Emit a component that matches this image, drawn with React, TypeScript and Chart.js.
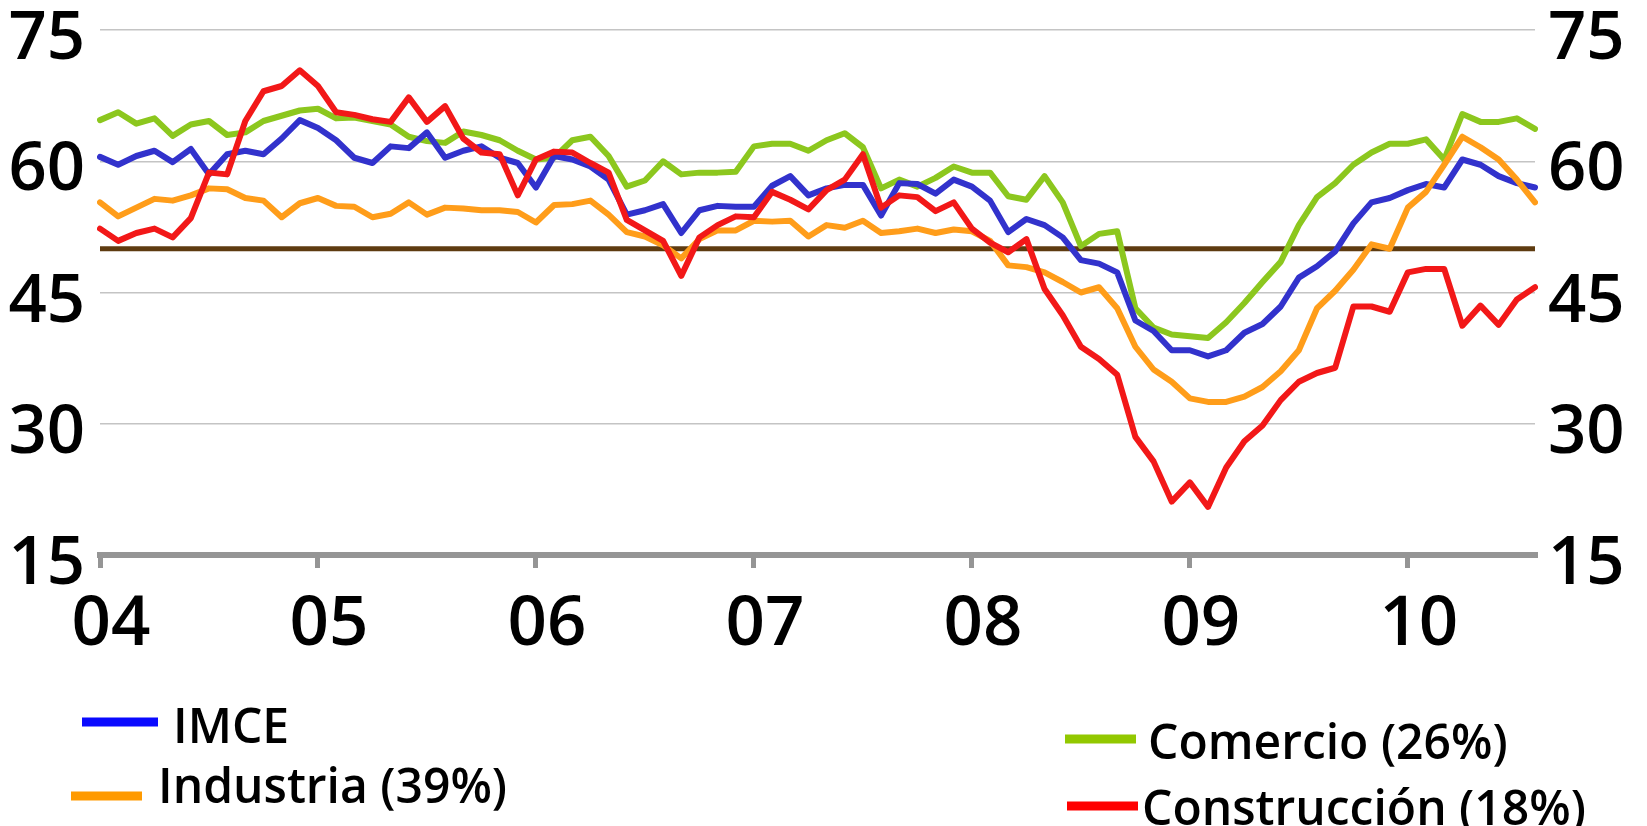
import React, { useEffect, useRef } from 'react';
import { Chart, registerables } from 'chart.js';

Chart.register(...registerables);

// Monthly series, January 2004 to August 2010
const MONTH_NAMES = ['ene', 'feb', 'mar', 'abr', 'may', 'jun', 'jul', 'ago', 'sep', 'oct', 'nov', 'dic'];
const FIRST_YEAR = 4;
const MONTH_COUNT = 80;
const months: string[] = Array.from(
  { length: MONTH_COUNT },
  (_, i) => `${MONTH_NAMES[i % 12]}-${String(FIRST_YEAR + Math.floor(i / 12)).padStart(2, '0')}`
);

// Year labels shown under each January
const yearTicks = ['04', '05', '06', '07', '08', '09', '10'];

// Value axis
const Y_MIN = 15;
const Y_MAX = 75;
const Y_STEP = 15;
const NEUTRAL = 50;

const imce = [
  60.5, 59.6, 60.6, 61.2, 59.9, 61.4, 58.5, 60.8, 61.2, 60.8, 62.6, 64.7,
  63.8, 62.4, 60.4, 59.8, 61.7, 61.5, 63.3, 60.4, 61.2, 61.7, 60.4, 59.8,
  57.0, 60.6, 60.2, 59.4, 57.9, 53.9, 54.4, 55.1, 51.8, 54.4, 54.9, 54.8,
  54.8, 57.2, 58.3, 56.1, 56.9, 57.3, 57.3, 53.8, 57.5, 57.4, 56.3, 57.9,
  57.1, 55.5, 51.9, 53.4, 52.7, 51.3, 48.7, 48.3, 47.3, 41.8, 40.6, 38.4,
  38.4, 37.7, 38.4, 40.4, 41.4, 43.4, 46.7, 48.0, 49.7, 52.9, 55.3, 55.8,
  56.7, 57.4, 57.0, 60.2, 59.6, 58.3, 57.5, 57.0,
];

const industria = [
  55.3, 53.7, 54.7, 55.7, 55.5, 56.1, 56.9, 56.8, 55.8, 55.5, 53.6, 55.2,
  55.8, 54.9, 54.8, 53.6, 54.0, 55.3, 53.9, 54.7, 54.6, 54.4, 54.4, 54.2,
  53.0, 55.0, 55.1, 55.5, 53.9, 51.9, 51.4, 50.4, 48.9, 51.1, 52.1, 52.1,
  53.2, 53.1, 53.2, 51.4, 52.7, 52.4, 53.2, 51.8, 52.0, 52.3, 51.8, 52.2,
  52.0, 50.9, 48.1, 47.9, 47.3, 46.2, 45.0, 45.6, 43.2, 38.8, 36.2, 34.8,
  32.9, 32.5, 32.5, 33.1, 34.2, 36.0, 38.4, 43.2, 45.2, 47.6, 50.5, 50.0,
  54.7, 56.5, 59.6, 62.8, 61.6, 60.2, 57.9, 55.3,
];

const comercio = [
  64.7, 65.6, 64.3, 64.9, 62.9, 64.2, 64.6, 63.0, 63.3, 64.6, 65.2, 65.8,
  66.0, 64.9, 65.0, 64.6, 64.2, 62.8, 62.3, 62.1, 63.4, 63.0, 62.4, 61.2,
  60.2, 60.4, 62.4, 62.8, 60.6, 57.1, 57.8, 60.0, 58.5, 58.7, 58.7, 58.8,
  61.7, 62.0, 62.0, 61.2, 62.4, 63.2, 61.6, 56.9, 57.9, 57.1, 58.1, 59.4,
  58.7, 58.7, 56.0, 55.6, 58.3, 55.3, 50.3, 51.7, 52.0, 43.2, 41.0, 40.2,
  40.0, 39.8, 41.6, 43.8, 46.2, 48.5, 52.7, 55.9, 57.5, 59.6, 61.0, 62.0,
  62.0, 62.5, 60.2, 65.4, 64.5, 64.5, 64.9, 63.7,
];

const construccion = [
  52.3, 50.9, 51.8, 52.3, 51.3, 53.5, 58.7, 58.5, 64.6, 68.0, 68.6, 70.4,
  68.6, 65.6, 65.3, 64.8, 64.5, 67.3, 64.5, 66.3, 62.6, 61.0, 60.8, 56.1,
  60.2, 61.1, 61.0, 59.8, 58.7, 53.3, 52.1, 50.9, 46.9, 51.3, 52.7, 53.7,
  53.6, 56.5, 55.6, 54.5, 56.7, 57.9, 60.8, 54.7, 56.1, 55.9, 54.3, 55.3,
  52.3, 50.7, 49.6, 51.1, 45.4, 42.4, 38.8, 37.4, 35.6, 28.5, 25.7, 21.1,
  23.3, 20.5, 25.0, 28.0, 29.8, 32.7, 34.8, 35.8, 36.4, 43.4, 43.4, 42.8,
  47.3, 47.7, 47.7, 41.2, 43.5, 41.3, 44.2, 45.6,
];

const WIDTH = 1647;
const HEIGHT = 826;
const PLOT_TOP = 30;
const PLOT_BOTTOM = 555;
const PLOT_LEFT = 100;
const PLOT_RIGHT = 1535;
const BOTTOM_PAD = 150;
const TICK_FONT = '"Open Sans", "Noto Sans", sans-serif';

// Horizontal reference line at the neutral level
const neutralLine = {
  id: 'neutralLine',
  beforeDatasetsDraw(chart: any) {
    const { ctx, chartArea, scales } = chart;
    const y = scales.y.getPixelForValue(NEUTRAL);
    ctx.save();
    ctx.strokeStyle = '#5e3b10';
    ctx.lineWidth = 5;
    ctx.beginPath();
    ctx.moveTo(chartArea.left, y);
    ctx.lineTo(chartArea.right, y);
    ctx.stroke();
    ctx.restore();
  },
};

// Two-column legend under the plot
const LEGEND_SLOTS = [
  { x0: 82, x1: 158, ly: 722, tx: 173, by: 743 },
  { x0: 71, x1: 142, ly: 796, tx: 158, by: 803 },
  { x0: 1065, x1: 1136, ly: 739, tx: 1148, by: 759 },
  { x0: 1067, x1: 1138, ly: 806, tx: 1142, by: 825 },
];

const legendPlugin = {
  id: 'cornerLegend',
  afterDraw(chart: any) {
    const { ctx } = chart;
    ctx.save();
    ctx.font = `600 48px ${TICK_FONT}`;
    ctx.fillStyle = '#000';
    ctx.textBaseline = 'alphabetic';
    ctx.textAlign = 'left';
    chart.data.datasets.forEach((ds: any, i: number) => {
      const slot = LEGEND_SLOTS[i];
      if (!slot) return;
      ctx.strokeStyle = ds.legendColor || ds.borderColor;
      ctx.lineWidth = 9;
      ctx.lineCap = 'butt';
      ctx.beginPath();
      ctx.moveTo(slot.x0, slot.ly);
      ctx.lineTo(slot.x1, slot.ly);
      ctx.stroke();
      ctx.fillText(ds.label, slot.tx, slot.by);
    });
    ctx.restore();
  },
};

// Pin the plot area so the axes do not reserve extra room for their labels
const fixVertical = (width: number) => (scale: any) => {
  scale.width = width;
  scale.paddingTop = 0;
  scale.paddingBottom = 0;
};

export default function App() {
  const canvasRef = useRef<HTMLCanvasElement | null>(null);

  useEffect(() => {
    if (!canvasRef.current) return;
    const lineStyle = {
      borderWidth: 6,
      pointRadius: 0,
      tension: 0,
      fill: false,
      borderJoinStyle: 'round' as const,
      borderCapStyle: 'round' as const,
    };
    const tickFont = { family: TICK_FONT, size: 67, weight: '600' as const };
    const chart = new Chart(canvasRef.current, {
      type: 'line',
      data: {
        labels: months,
        datasets: [
          { label: 'IMCE', data: imce, borderColor: '#3232cc', legendColor: '#0a0aff', order: 2, ...lineStyle } as any,
          { label: 'Industria (39%)', data: industria, borderColor: '#ff9d1a', legendColor: '#ff9a00', order: 1, ...lineStyle } as any,
          { label: 'Comercio (26%)', data: comercio, borderColor: '#8cc71e', legendColor: '#92c800', order: 3, ...lineStyle } as any,
          { label: 'Construcción (18%)', data: construccion, borderColor: '#f21818', legendColor: '#ff0000', order: 0, ...lineStyle } as any,
        ],
      },
      options: {
        responsive: false,
        animation: false,
        devicePixelRatio: 1,
        layout: { autoPadding: false, padding: { top: PLOT_TOP, bottom: BOTTOM_PAD, left: 0, right: 0 } },
        plugins: {
          legend: { display: false },
          tooltip: { enabled: false },
          title: { display: false },
        },
        scales: {
          x: {
            type: 'category',
            offset: false,
            afterFit: (scale: any) => {
              scale.height = HEIGHT - BOTTOM_PAD - PLOT_BOTTOM;
              scale.paddingLeft = 0;
              scale.paddingRight = 0;
            },
            border: { display: true, color: '#959595', width: 6 },
            grid: {
              drawOnChartArea: false,
              drawTicks: true,
              tickLength: 13,
              color: '#959595',
              lineWidth: 5,
            },
            ticks: {
              autoSkip: false,
              maxRotation: 0,
              padding: 16,
              labelOffset: 11,
              color: '#000',
              font: { family: TICK_FONT, size: 69, weight: '600' },
              callback: (_v: any, index: number) => (index % 12 === 0 ? yearTicks[index / 12] : null),
            },
          },
          y: {
            position: 'left',
            min: Y_MIN,
            max: Y_MAX,
            afterFit: fixVertical(PLOT_LEFT),
            border: { display: false },
            grid: { color: '#c4c4c4', lineWidth: 1.5, drawTicks: false },
            ticks: {
              stepSize: Y_STEP,
              padding: 15,
              labelOffset: 10,
              color: '#000',
              font: tickFont,
            },
          },
          y2: {
            position: 'right',
            min: Y_MIN,
            max: Y_MAX,
            afterFit: fixVertical(WIDTH - PLOT_RIGHT),
            border: { display: false },
            grid: { display: false, drawTicks: false },
            ticks: {
              stepSize: Y_STEP,
              padding: 13,
              labelOffset: 10,
              color: '#000',
              font: tickFont,
            },
          },
        },
      } as any,
      plugins: [neutralLine, legendPlugin],
    });
    return () => chart.destroy();
  }, []);

  return (
    <div style={{ position: 'absolute', left: 0, top: 0, width: WIDTH, height: HEIGHT, background: '#fff' }}>
      <canvas ref={canvasRef} width={WIDTH} height={HEIGHT} style={{ display: 'block', width: WIDTH, height: HEIGHT }} />
    </div>
  );
}
